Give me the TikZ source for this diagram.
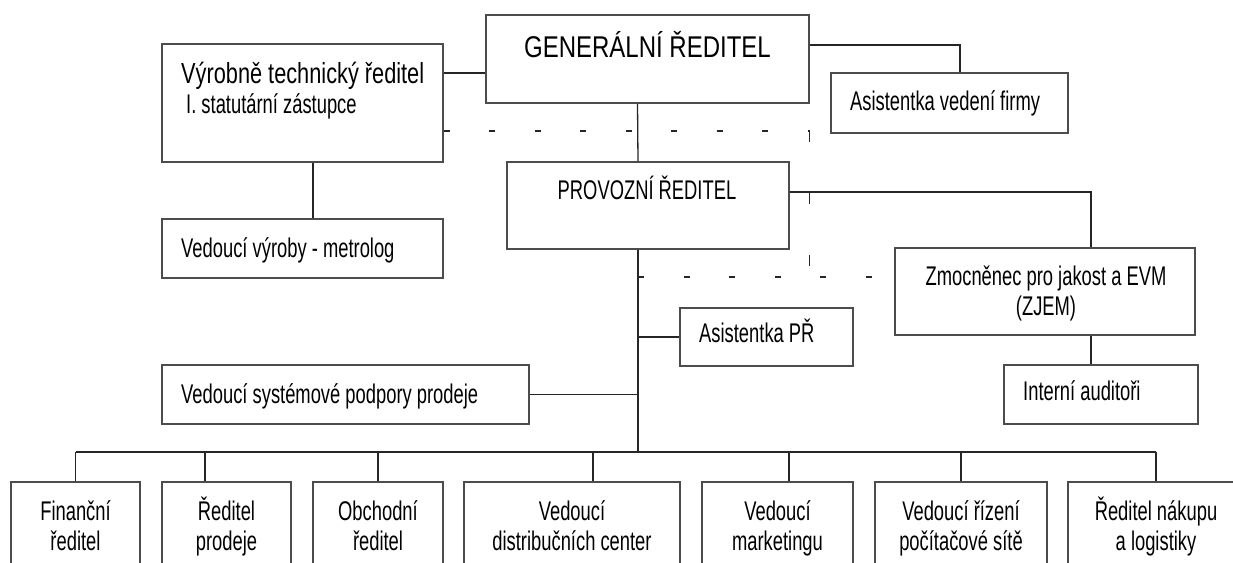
\documentclass[tikz,border=0pt]{standalone}
\usepackage{fontspec}
\setmainfont[FakeStretch=0.68]{Liberation Sans}
\newfontfamily\vtrfont[FakeStretch=0.75]{Liberation Sans}
\newfontfamily\grfont[FakeStretch=0.8]{Liberation Sans}
\usetikzlibrary{positioning}

\begin{document}
\begin{tikzpicture}[x=1pt, y=-1pt,
  box/.style={rectangle, draw=black!70, line width=1.3pt, fill=white, inner sep=0pt},
  lbl/.style={inner sep=0pt, font=\fontsize{27}{30}\selectfont},
  link/.style={draw=black!85, line width=1.3pt},
  dashln/.style={draw=black!85, line width=1.3pt, dash pattern=on 6pt off 39.5pt}
]
\useasboundingbox (0,0) rectangle (1233,562);
\clip (0,0) rectangle (1233,562);
% ── Management ────────────────────────
\node[box, minimum width=323, minimum height=88] (gr)  at (647.5,59)  {};
\node[box, minimum width=281, minimum height=118] (vtr) at (302.5,103) {};
\node[box, minimum width=281, minimum height=59] (vvm) at (302.5,248.5) {};
\node[box, minimum width=237, minimum height=60] (avf) at (949.5,103) {};
\node[box, minimum width=282, minimum height=87] (pr)  at (648,205.5) {};
\node[box, minimum width=300, minimum height=87] (zj)  at (1045,291.5) {};
\node[box, minimum width=173, minimum height=58] (apr) at (766.5,337) {};
\node[box, minimum width=194, minimum height=59] (ia)  at (1101,394.5) {};
\node[box, minimum width=367, minimum height=59] (vsp) at (345.5,394.5) {};
\node[lbl, anchor=base, font=\grfont\fontsize{30}{32}\selectfont] (gr-t) at (647.5,57)
  {GENERÁLNÍ ŘEDITEL};
\node[lbl, anchor=base west, font=\vtrfont\fontsize{29}{30}\selectfont] (vtr-t1) at (181,83)
  {Výrobně technický ředitel};
\node[lbl, anchor=base west] (vtr-t2) at (186,113) {I. statutární zástupce};
\node[lbl, anchor=base west] (vvm-t) at (181,257) {Vedoucí výroby - metrolog};
\node[lbl, anchor=base west] (avf-t) at (850,110) {Asistentka vedení firmy};
\node[lbl, anchor=base] (pr-t) at (647,199) {PROVOZNÍ ŘEDITEL};
% anchor=base of a two-line node sits on its last line
\node[lbl, anchor=base, align=center] (zj-t) at (1046,315) {Zmocněnec pro jakost a EVM\\(ZJEM)};
\node[lbl, anchor=base west] (apr-t) at (699,342) {Asistentka PŘ};
\node[lbl, anchor=base west] (ia-t) at (1023,400) {Interní auditoři};
\node[lbl, anchor=base west] (vsp-t) at (181,403) {Vedoucí systémové podpory prodeje};
% ── Departments ───────────────────────
\node[box, minimum width=129, minimum height=108] (b1) at (75.5,536) {};
\node[box, minimum width=129, minimum height=108] (b2) at (226.5,536) {};
\node[box, minimum width=130, minimum height=108] (b3) at (378,536) {};
\node[box, minimum width=216, minimum height=108] (b4) at (572,536) {};
\node[box, minimum width=151, minimum height=108] (b5) at (777.5,536) {};
\node[box, minimum width=172, minimum height=108] (b6) at (961,536) {};
\node[box, minimum width=176, minimum height=108] (b7) at (1156,536) {};
\foreach \b/\txt in {b1/{Finanční\\ředitel}, b2/{Ředitel\\prodeje}, b3/{Obchodní\\ředitel},
    b4/{Vedoucí\\distribučních center}, b5/{Vedoucí\\marketingu},
    b6/{Vedoucí řízení\\počítačové sítě}, b7/{Ředitel nákupu\\a logistiky}}
  \node[lbl, anchor=base, align=center] (\b-t) at (\b.north |- 0,550) {\txt};
% ── Connectors ────────────────────────
\coordinate (bus) at (638,452);
\draw[link] (vtr.east |- 0,73) -- (gr.west |- 0,73);
\draw[link] (gr.east |- 0,45) -| ([xshift=10.5]avf.north);
\draw[link] ([xshift=10.5]vtr.south) -- ([xshift=10.5]vvm.north);
\draw[link] ([xshift=-10]gr.south) -- ([xshift=-10]pr.north);
\draw[link] ([xshift=-10]pr.south) -- (bus);
\draw[link] (pr.east |- 0,192) -| ([xshift=46]zj.north);
\draw[link] ([xshift=46]zj.south) -- ([xshift=46]zj.south |- ia.north);
\draw[link] (apr.west) -- (apr.west -| bus);
\draw[link] (vsp.east) -- (vsp.east -| bus);
\draw[link] (b1.north |- bus) -- (b7.north |- bus);
\foreach \b/\dx in {b1/0, b2/-21.5, b3/0, b4/21, b5/11.5, b6/0, b7/0}
  \draw[link] ([xshift=\dx]\b.north) -- ([xshift=\dx]\b.north |- bus);
\draw[dashln] (vtr.east |- 0,131) -- (gr.east |- 0,131);
\draw[dashln, dash pattern=on 11pt off 51pt] (gr.east |- 0,131) -- (gr.east |- 0,277);
\draw[dashln] (bus |- 0,277) -- (zj.west |- 0,277);
\end{tikzpicture}
\end{document}
